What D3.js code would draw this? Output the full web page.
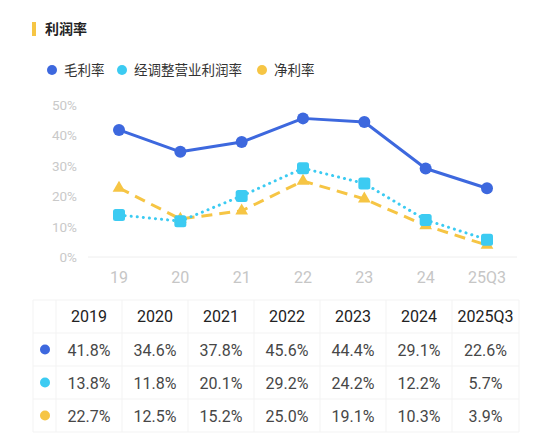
<!DOCTYPE html>
<html>
<head>
<meta charset="utf-8">
<script src="https://cdn.jsdelivr.net/npm/d3@7"></script>
<style>
  body { margin: 0; background: #fff; }
  svg { display: block; font-family: "Noto Sans CJK SC", "Noto Sans", sans-serif; }
</style>
</head>
<body>
<div class="viz"></div>
<script>
// data
const years = ['19', '20', '21', '22', '23', '24', '25Q3']
const yearLabels = ['2019', '2020', '2021', '2022', '2023', '2024', '2025Q3']
const grossMargin = [41.8, 34.6, 37.8, 45.6, 44.4, 29.1, 22.6]
const adjOpMargin = [13.8, 11.8, 20.1, 29.2, 24.2, 12.2, 5.7]
const netMargin = [22.7, 12.5, 15.2, 25.0, 19.1, 10.3, 3.9]
const seriesNames = ['毛利率', '经调整营业利润率', '净利率']
const yTicks = [0, 10, 20, 30, 40, 50]

const colors = ['#3d68de', '#3ccbf2', '#f6c544']
const series = [grossMargin, adjOpMargin, netMargin]

const W = 550, H = 442
const svg = d3.select('.viz').append('svg').attr('width', W).attr('height', H)

// title
svg.append('rect').attr('x', 32).attr('y', 22).attr('width', 4).attr('height', 14).attr('fill', '#f6c544')
svg.append('text').attr('x', 45).attr('y', 34).text('利润率')
  .attr('font-size', 14).attr('font-weight', 'bold').attr('fill', '#222')

// legend
const legendX = [52, 122, 262]
const legend = svg.selectAll('g.legend').data(seriesNames).enter().append('g')
  .attr('transform', (d, i) => `translate(${legendX[i]}, 70)`)
legend.append('circle').attr('r', 5).attr('fill', (d, i) => colors[i])
legend.append('text').attr('x', 12).attr('y', 5).text(d => d)
  .attr('font-size', 13.5).attr('fill', '#333')

// scales
const x = d3.scalePoint().domain(years).range([119, 487])
const y = d3.scaleLinear().domain([0, 50]).range([257, 105])

// baseline
svg.append('line').attr('x1', 88).attr('x2', 517).attr('y1', y(0)).attr('y2', y(0))
  .attr('stroke', '#eee').attr('stroke-width', 1)

// y axis labels
svg.selectAll('text.ytick').data(yTicks).enter().append('text')
  .attr('x', 77).attr('y', d => y(d) + 5).attr('text-anchor', 'end')
  .text(d => d + '%').attr('font-size', 13.5).attr('fill', '#c9c9c9')
  .attr('font-family', 'Roboto, "Noto Sans", sans-serif')

// x axis labels
svg.selectAll('text.xtick').data(years).enter().append('text')
  .attr('x', d => x(d)).attr('y', 283).attr('text-anchor', 'middle')
  .text(d => d).attr('font-size', 16).attr('fill', '#c6c6c6')
  .attr('font-family', 'Roboto, "Noto Sans", sans-serif')

// lines
const line = d3.line().x((d, i) => x(years[i])).y(d => y(d))
const dashes = [null, '0.1 6', '11 7']
const order = [2, 1, 0]
order.forEach(k => {
  svg.append('path').attr('d', line(series[k])).attr('fill', 'none')
    .attr('stroke', colors[k]).attr('stroke-width', 3)
    .attr('stroke-linecap', k === 1 ? 'round' : 'butt')
    .attr('stroke-linejoin', 'round')
    .attr('stroke-dasharray', dashes[k])
})

// markers
svg.selectAll('path.tri').data(netMargin).enter().append('path')
  .attr('d', d3.symbol().type(d3.symbolTriangle).size(70))
  .attr('transform', (d, i) => `translate(${x(years[i])}, ${y(d)})`)
  .attr('fill', colors[2])
svg.selectAll('rect.sq').data(adjOpMargin).enter().append('rect')
  .attr('x', (d, i) => x(years[i]) - 6).attr('y', d => y(d) - 6)
  .attr('width', 12).attr('height', 12).attr('rx', 2.5)
  .attr('fill', colors[1])
svg.selectAll('circle.pt').data(grossMargin).enter().append('circle')
  .attr('cx', (d, i) => x(years[i])).attr('cy', d => y(d)).attr('r', 6)
  .attr('fill', colors[0])

// table
const colEdges = [33, 56, 122, 188, 254, 320, 386, 452, 519]
const rowEdges = [300, 333, 366, 399, 432]
const table = svg.append('g')
colEdges.forEach(cx => table.append('line').attr('x1', cx).attr('x2', cx)
  .attr('y1', rowEdges[0]).attr('y2', rowEdges[rowEdges.length - 1])
  .attr('stroke', '#f3f3f3'))
rowEdges.forEach(ry => table.append('line').attr('y1', ry).attr('y2', ry)
  .attr('x1', colEdges[0]).attr('x2', colEdges[colEdges.length - 1])
  .attr('stroke', '#f3f3f3'))

const colMid = i => (colEdges[i + 1] + colEdges[i + 2]) / 2
table.selectAll('text.head').data(yearLabels).enter().append('text')
  .attr('x', (d, i) => colMid(i)).attr('y', 322).attr('text-anchor', 'middle')
  .text(d => d).attr('font-size', 16).attr('fill', '#222')
  .attr('font-family', 'Roboto, "Noto Sans", sans-serif')

series.forEach((vals, k) => {
  const cy = (rowEdges[k + 1] + rowEdges[k + 2]) / 2
  table.append('circle').attr('cx', 45).attr('cy', cy).attr('r', 5).attr('fill', colors[k])
  table.selectAll(null).data(vals).enter().append('text')
    .attr('x', (d, i) => colMid(i)).attr('y', cy + 6).attr('text-anchor', 'middle')
    .text(d => d.toFixed(1) + '%').attr('font-size', 16).attr('fill', '#474747')
    .attr('font-family', 'Roboto, "Noto Sans", sans-serif')
})
</script>
</body>
</html>
